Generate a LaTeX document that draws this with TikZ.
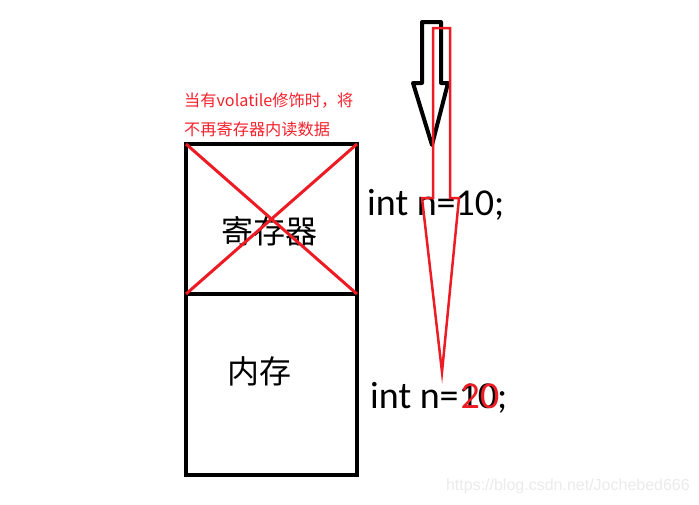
\documentclass[tikz,border=0pt]{standalone}
\usepackage{fontspec}
\setmainfont{Carlito}
\newfontfamily\cjk{Noto Sans CJK SC}
\newfontfamily\wmfont{Liberation Sans}
\definecolor{pred}{HTML}{ED1C24}
\definecolor{tred}{HTML}{F5222D}
\begin{document}
\begin{tikzpicture}[x=1pt,y=-1pt,
  boxline/.style={draw=black,line width=4pt},
  xline/.style={draw=pred,line width=3pt},
  cjklabel/.style={font=\cjk\fontsize{32}{36}\selectfont,inner sep=0pt},
  codetext/.style={font=\fontsize{38}{42}\selectfont,inner sep=0pt,anchor=base west},
  note/.style={font=\cjk\fontsize{16.2}{20}\selectfont,text=tred,inner sep=0pt,anchor=west}]
\useasboundingbox (0,0) rectangle (699,504);
\fill[white] (0,0) rectangle (699,504);
% boxes
\coordinate (tl) at (186,144);
\coordinate (tr) at (357,144);
\coordinate (ml) at (186,294);
\coordinate (mr) at (357,294);
\coordinate (bl) at (186,475);
\coordinate (br) at (357,475);
\draw[boxline,line join=miter] (tl) rectangle (br);
\draw[boxline] (ml) -- (mr);
\node[cjklabel] (reg) at (269,231) {寄存器};
\node[cjklabel] (mem) at (259,371) {内存};
\draw[xline] (tl) -- (mr);
\draw[xline] (tr) -- (ml);
% notes
\node[note] (n1) at (184,101) {当有volatile修饰时，将};
\node[note] (n2) at (184,129) {不再寄存器内读数据};
% code
\node[codetext] (c1) at (367,215) {int n=10;};
\node[codetext] (c2) at (370,408) {int n=10;};
\node[codetext,text=pred,anchor=base west] (c2r) at ([xshift=2pt]c2.base west) {\phantom{int n=}20};
% black arrow
\draw[black,line width=4pt,line join=round] (422,22) -- (441,22) -- (441,83) -- (448,83) -- (432,145) -- (413,83) -- (422,83) -- cycle;
% red arrow
\draw[pred,line width=2.5pt,line join=miter] (433,28) -- (450,28) -- (450,198) -- (459,198) -- (442,372) -- (422,198) -- (433,198) -- cycle;
% watermark
\node[font=\wmfont\fontsize{16}{18}\selectfont,text=black!8,anchor=east,inner sep=0pt] (wm) at (690,486) {https://blog.csdn.net/Jochebed666};
\end{tikzpicture}
\end{document}
